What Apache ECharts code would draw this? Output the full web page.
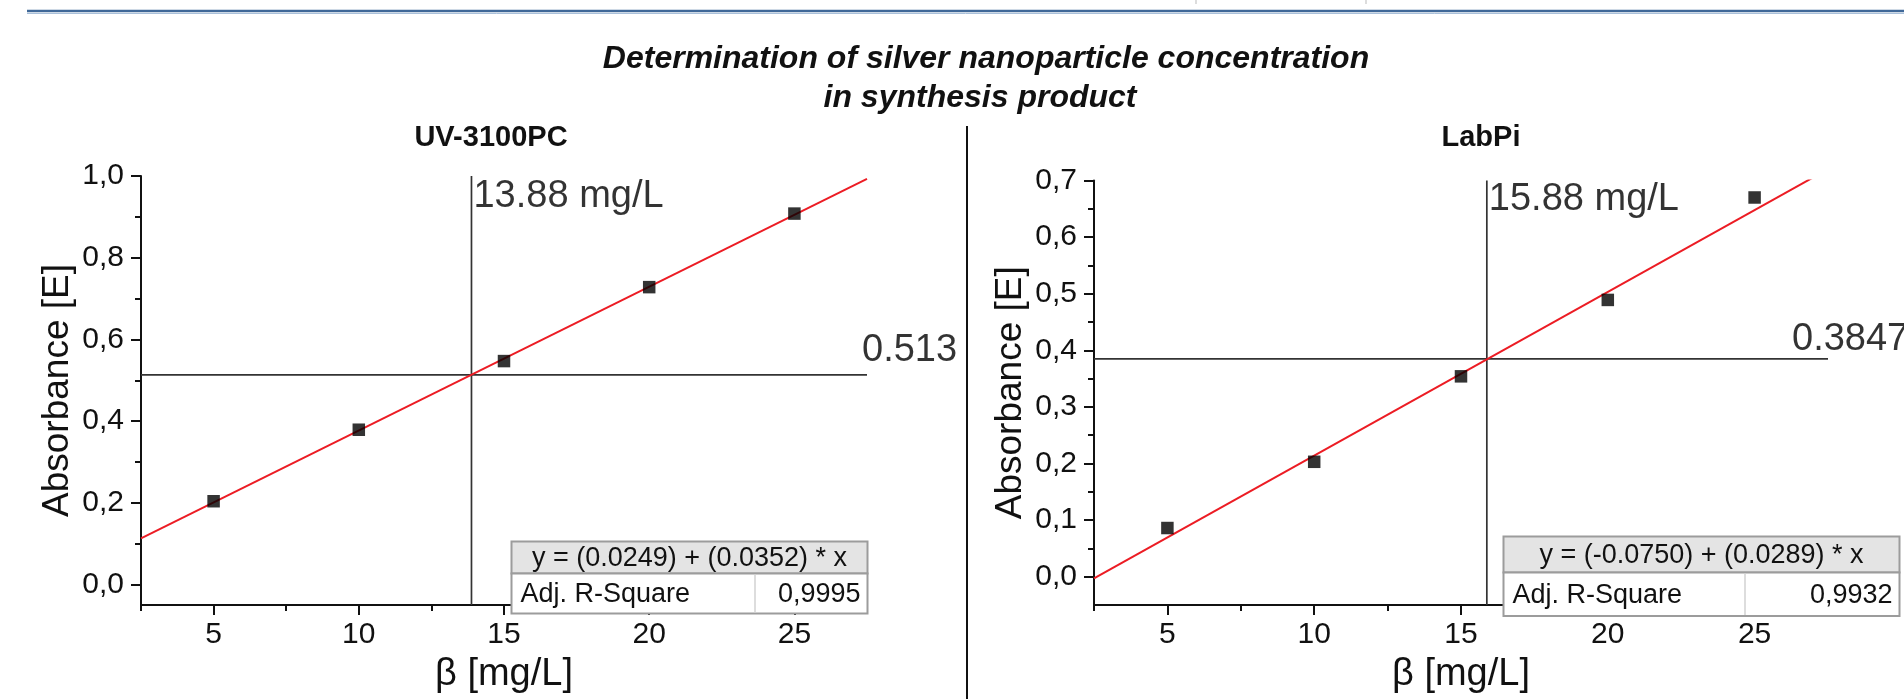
<!DOCTYPE html>
<html><head><meta charset="utf-8">
<script src="https://cdn.jsdelivr.net/npm/echarts@6/dist/echarts.min.js"></script>
<style>html,body{margin:0;padding:0;background:#fff}#c{width:1904px;height:699px}</style>
</head><body><div id="c"></div>
<script>
// ---- data ----
const concentrations = [5, 10, 15, 20, 25];
const absorbanceUV = [0.204, 0.379, 0.547, 0.728, 0.908];
const absorbanceLabPi = [0.086, 0.203, 0.354, 0.489, 0.670];
const fitLineUV = [[2.5, 0.113], [27.5, 0.993]];
const fitLineLabPi = [[2.5, -0.003], [27.5, 0.720]];
const sampleUV = [13.88, 0.513];
const sampleLabPi = [15.88, 0.3847];
const sampleLabelsUV = ['13.88 mg/L', '0.513'];
const sampleLabelsLabPi = ['15.88 mg/L', '0.3847'];
const xRange = [2.5, 27.5];
const yRangeUV = [-0.05, 1.0];
const yRangeLabPi = [-0.05, 0.7];
const xMajorTicks = [5, 10, 15, 20, 25];
const xMinorTicks = [2.5, 7.5, 12.5, 17.5, 22.5, 27.5];
const yMajorUV = [0, 0.2, 0.4, 0.6, 0.8, 1.0];
const yMinorUV = [0.1, 0.3, 0.5, 0.7, 0.9];
const yMajorLabPi = [0, 0.1, 0.2, 0.3, 0.4, 0.5, 0.6, 0.7];
const yMinorLabPi = [0.05, 0.15, 0.25, 0.35, 0.45, 0.55, 0.65];
const fitTableUV = ['y = (0.0249) + (0.0352) * x', 'Adj. R-Square', '0,9995'];
const fitTableLabPi = ['y = (-0.0750) + (0.0289) * x', 'Adj. R-Square', '0,9932'];
const titleLines = ['Determination of silver nanoparticle concentration', 'in synthesis product'];
const panelTitles = ['UV-3100PC', 'LabPi'];
const xAxisName = 'β [mg/L]';
const yAxisName = 'Absorbance [E]';

// ---- styling / layout ----
const FF = "'Liberation Sans', Arial, sans-serif";
const INK = '#111111';
const chart = echarts.init(document.getElementById('c'), null, {renderer: 'canvas'});

function majorX(grid) {
  return {
    type: 'value', gridIndex: grid, min: xRange[0], max: xRange[1], position: 'bottom',
    name: xAxisName, nameLocation: 'middle', nameGap: 51,
    nameTextStyle: {fontSize: 38, color: INK, fontFamily: FF},
    axisLine: {show: true, onZero: false, lineStyle: {color: INK, width: 2}},
    axisTick: {show: true, customValues: xMajorTicks, length: 10, inside: false, lineStyle: {color: INK, width: 2}},
    axisLabel: {show: true, customValues: xMajorTicks, fontSize: 30, color: INK, fontFamily: FF, margin: 15,
      formatter: v => String(v)},
    splitLine: {show: false}, minorTick: {show: false}
  };
}
function minorX(grid) {
  return {
    type: 'value', gridIndex: grid, min: xRange[0], max: xRange[1], position: 'bottom',
    axisLine: {show: false, onZero: false},
    axisTick: {show: true, customValues: xMinorTicks, length: 6, lineStyle: {color: INK, width: 2}},
    axisLabel: {show: false}, splitLine: {show: false}
  };
}
function majorY(grid, range, ticks) {
  return {
    type: 'value', gridIndex: grid, min: range[0], max: range[1], position: 'left',
    name: yAxisName, nameLocation: 'middle', nameGap: 65, nameRotate: 90,
    nameTextStyle: {fontSize: 37, color: INK, fontFamily: FF},
    axisLine: {show: true, onZero: false, lineStyle: {color: INK, width: 2}},
    axisTick: {show: true, customValues: ticks, length: 10, lineStyle: {color: INK, width: 2}},
    axisLabel: {show: true, customValues: ticks, fontSize: 30, color: INK, fontFamily: FF, margin: 17,
      formatter: v => Number(v).toFixed(1).replace('.', ',')},
    splitLine: {show: false}
  };
}
function minorY(grid, range, ticks) {
  return {
    type: 'value', gridIndex: grid, min: range[0], max: range[1], position: 'left',
    axisLine: {show: false, onZero: false},
    axisTick: {show: true, customValues: ticks, length: 6, lineStyle: {color: INK, width: 2}},
    axisLabel: {show: false}, splitLine: {show: false}
  };
}

function panelSeries(ax, xs, ys, fit, sample, labels, yRange, labelOffsets) {
  const pts = xs.map((x, i) => [x, ys[i]]);
  return [
    {type: 'line', xAxisIndex: ax, yAxisIndex: ax, data: [[xRange[0], sample[1]], [xRange[1], sample[1]]],
      symbol: 'none', silent: true, lineStyle: {color: '#333333', width: 1.7}, z: 2},
    {type: 'line', xAxisIndex: ax, yAxisIndex: ax, data: [[sample[0], yRange[0]], [sample[0], yRange[1]]],
      symbol: 'none', silent: true, lineStyle: {color: '#333333', width: 1.7}, z: 2},
    {type: 'line', xAxisIndex: ax, yAxisIndex: ax, data: fit, symbol: 'none', clip: true,
      lineStyle: {color: '#ec1c24', width: 2}, z: 3},
    {type: 'scatter', xAxisIndex: ax, yAxisIndex: ax, data: pts, symbol: 'rect', symbolSize: 12.5,
      itemStyle: {color: '#000'}, z: 4},
    {type: 'scatter', xAxisIndex: ax, yAxisIndex: ax, symbolSize: 0, silent: true, z: 5,
      data: [
        {value: [sample[0], yRange[1]], label: {show: true, formatter: labels[0], position: labelOffsets[0]}},
        {value: [xRange[1], sample[1]], label: {show: true, formatter: labels[1], position: labelOffsets[1]}}
      ],
      label: {fontSize: 38, color: '#000', fontFamily: FF}
    }
  ];
}

function tableGraphics(x, y, w, h1, h2, colX, texts) {
  return [
    {type: 'rect', shape: {x: x, y: y, width: w, height: h1}, style: {fill: '#e4e4e4', stroke: '#9c9c9c', lineWidth: 2}, z: 100},
    {type: 'rect', shape: {x: x, y: y + h1, width: w, height: h2}, style: {fill: '#fff', stroke: '#9c9c9c', lineWidth: 2}, z: 100},
    {type: 'line', shape: {x1: colX, y1: y + h1 + 1, x2: colX, y2: y + h1 + h2 - 1}, style: {stroke: '#d2d2d2', lineWidth: 1.5}, z: 101},
    {type: 'text', x: x + w / 2, y: y + h1 / 2 + 1, style: {text: texts[0], font: '27px ' + FF, fill: INK, align: 'center', verticalAlign: 'middle'}, z: 102},
    {type: 'text', x: x + 9, y: y + h1 + h2 / 2 + 1, style: {text: texts[1], font: '27px ' + FF, fill: INK, align: 'left', verticalAlign: 'middle'}, z: 102},
    {type: 'text', x: x + w - 7, y: y + h1 + h2 / 2 + 1, style: {text: texts[2], font: '27px ' + FF, fill: INK, align: 'right', verticalAlign: 'middle'}, z: 102}
  ];
}

const option = {
  backgroundColor: '#ffffff',
  animation: false,
  grid: [
    {left: 141, top: 176, width: 726, height: 440, containLabel: false},
    {left: 1094, top: 180.5, width: 734, height: 436, containLabel: false}
  ],
  xAxis: [majorX(0), majorX(1), minorX(0), minorX(1)],
  yAxis: [majorY(0, yRangeUV, yMajorUV), majorY(1, yRangeLabPi, yMajorLabPi), minorY(0, yRangeUV, yMinorUV), minorY(1, yRangeLabPi, yMinorLabPi)],
  series: [].concat(
    panelSeries(0, concentrations, absorbanceUV, fitLineUV, sampleUV, sampleLabelsUV, yRangeUV, [[2, 2], [-5, -43]]),
    panelSeries(1, concentrations, absorbanceLabPi, fitLineLabPi, sampleLabPi, sampleLabelsLabPi, yRangeLabPi, [[2, 0], [-36, -38]])
  ),
  graphic: [
    {type: 'line', shape: {x1: 27, y1: 11, x2: 1904, y2: 11}, style: {stroke: '#3f6898', lineWidth: 2.5}},
    {type: 'line', shape: {x1: 27, y1: 13.5, x2: 1904, y2: 13.5}, style: {stroke: '#a9c0da', lineWidth: 1}},
    {type: 'line', shape: {x1: 1196, y1: 0, x2: 1196, y2: 4}, style: {stroke: '#bbbbbb', lineWidth: 1}},
    {type: 'line', shape: {x1: 1366, y1: 0, x2: 1366, y2: 4}, style: {stroke: '#bbbbbb', lineWidth: 1}},
    {type: 'line', shape: {x1: 967, y1: 126, x2: 967, y2: 699}, style: {stroke: '#111', lineWidth: 2}},
    {type: 'text', x: 986, y: 59, style: {text: titleLines[0], font: 'italic bold 32px ' + FF, fill: INK, align: 'center', verticalAlign: 'middle'}},
    {type: 'text', x: 980, y: 98, style: {text: titleLines[1], font: 'italic bold 32px ' + FF, fill: INK, align: 'center', verticalAlign: 'middle'}},
    {type: 'text', x: 491, y: 138, style: {text: panelTitles[0], font: 'bold 29px ' + FF, fill: INK, align: 'center', verticalAlign: 'middle'}},
    {type: 'text', x: 1481, y: 138, style: {text: panelTitles[1], font: 'bold 29px ' + FF, fill: INK, align: 'center', verticalAlign: 'middle'}}
  ].concat(
    tableGraphics(511.5, 541.5, 356, 32, 40, 755, fitTableUV),
    tableGraphics(1503.5, 536.5, 396, 36, 43.5, 1745, fitTableLabPi)
  )
};
chart.setOption(option);
</script></body></html>
